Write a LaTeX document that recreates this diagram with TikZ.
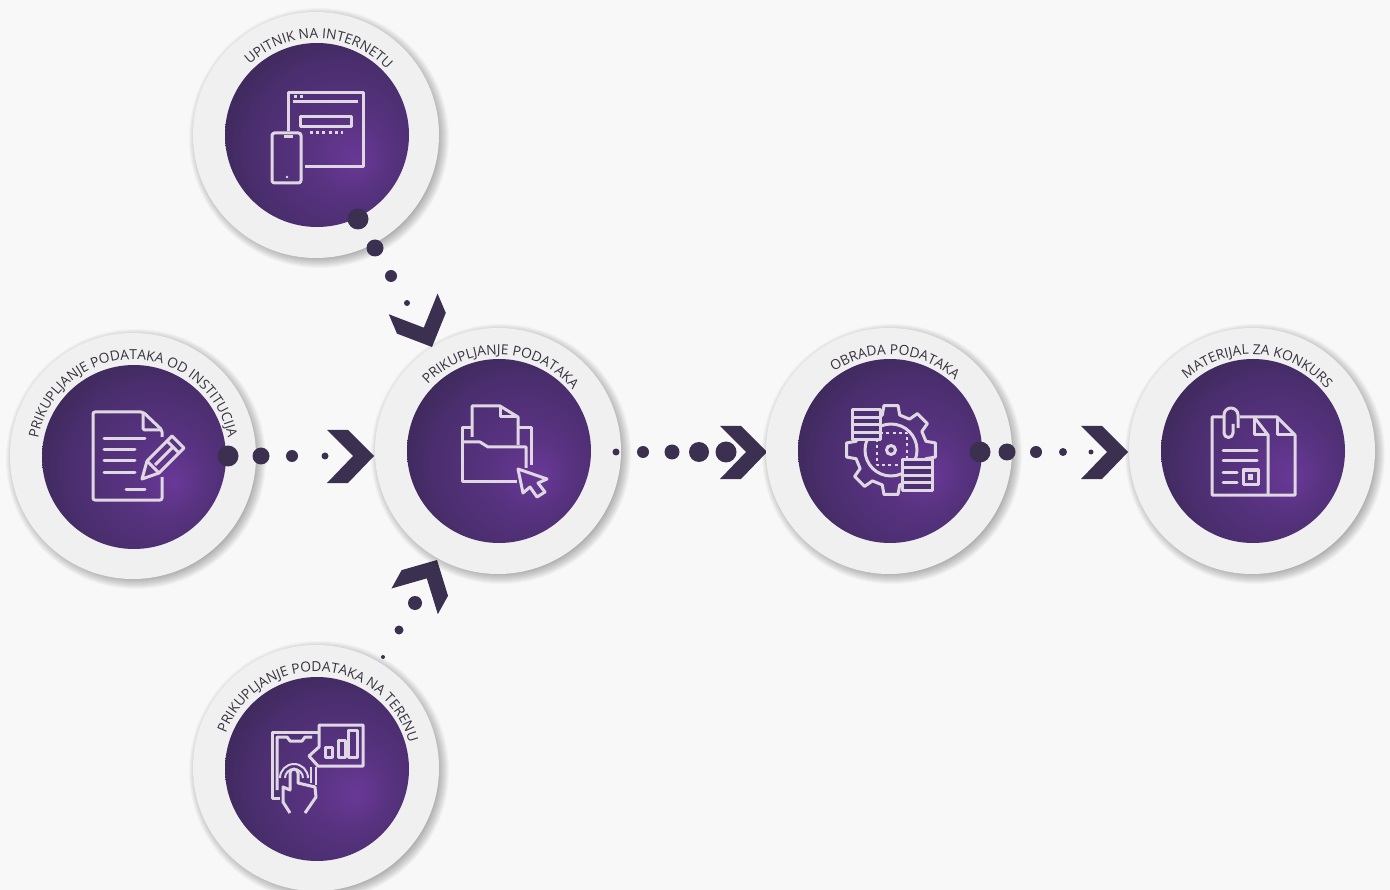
\documentclass[tikz,border=0pt]{standalone}
\usepackage{fontspec}
\setmainfont{Open Sans}
\usetikzlibrary{calc, decorations.text}

\definecolor{pagebg}{HTML}{F8F8F8}
\definecolor{rimfill}{HTML}{F1F0F1}
\definecolor{inkdark}{HTML}{3C3050}
\definecolor{labelink}{HTML}{38323F}
\definecolor{iconink}{HTML}{DFD8E3}
\definecolor{coinfill}{HTML}{4C2E72}
\pgfdeclareradialshading{discglow}{\pgfpoint{11bp}{-7bp}}{rgb(0bp)=(0.41,0.22,0.59); rgb(10bp)=(0.35,0.20,0.51); rgb(24bp)=(0.29,0.18,0.43); rgb(36bp)=(0.21,0.15,0.30); rgb(50bp)=(0.21,0.15,0.30)}
\newcommand{\arcfont}{\fontsize{13.8}{15}\selectfont\color{labelink}}
\newcommand{\arclabel}[3]{\path[decorate, decoration={text along path, text align=center, text={|\arcfont|#3}}] ($(#1)+(#2+105:96.5pt)$) arc[start angle=#2+105, end angle=#2-105, radius=96.5pt];}

\tikzset{
  rimdisc/.style={circle, fill=rimfill, inner sep=0, minimum size=246pt},
  glowdisc/.style={circle, shading=discglow, inner sep=0, minimum size=184pt},
  dotmark/.style={circle, fill=inkdark, inner sep=0},
  iconline/.style={draw=iconink, line width=3pt, line join=round},
  icondots/.style={iconline, dash pattern=on 3pt off 3.2pt},
  chevron/.pic={\fill[inkdark] (-47,-26)--(-26,-26)--(0,0)--(-26,27)--(-47,27)--(-21,0)--cycle;}
}

\begin{document}
\begin{tikzpicture}[x=1pt, y=-1pt]
  \useasboundingbox[fill=pagebg] (0,0) rectangle (1390,890);

  % chevrons go under the discs
  \pic[rotate=-67] (chevTop) at (432,347) {chevron};
  \pic[rotate=61] (chevBottom) at (437,560) {chevron};
  \pic (chevLeft) at (374,456) {chevron};
  \pic (chevMid) at (767,452) {chevron};
  \pic (chevRight) at (1128,452) {chevron};

  % soft shadow under each rim
  \foreach \x/\y in {316/135, 133/456, 498/451, 889/451, 1252/451, 316/768}
    \foreach \k in {0,...,11}
      \fill[black, opacity=0.028] (\x+3,\y+3) circle[radius={(130-\k)*1pt}];

  \node[rimdisc] (rimTop) at (316,135) {};
  \node[rimdisc] (rimLeft) at (133,456) {};
  \node[rimdisc] (rimMid) at (498,451) {};
  \node[rimdisc] (rimProc) at (889,451) {};
  \node[rimdisc] (rimMat) at (1252,451) {};
  \node[rimdisc] (rimBottom) at (316,768) {};

  \node[glowdisc] (discTop) at (317,135) {};
  \node[glowdisc] (discLeft) at (134,457) {};
  \node[glowdisc] (discMid) at (499,451) {};
  \node[glowdisc] (discProc) at (890,451) {};
  \node[glowdisc] (discMat) at (1253,451) {};
  \node[glowdisc] (discBottom) at (317,769) {};

  \arclabel{rimTop}{88}{UPITNIK NA INTERNETU}
  \arclabel{rimLeft}{90}{PRIKUPLJANJE PODATAKA OD INSTITUCIJA}
  \arclabel{rimMid}{88}{PRIKUPLJANJE PODATAKA}
  \arclabel{rimProc}{86}{OBRADA PODATAKA}
  \arclabel{rimMat}{86}{MATERIJAL ZA KONKURS}
  \arclabel{rimBottom}{87}{PRIKUPLJANJE PODATAKA NA TERENU}

  % dots
  \foreach \x/\y/\d [count=\i] in {358/219/21, 375/248/17, 391/276/12, 407/303/6}
    \node[dotmark, minimum size=\d pt] (dotTop\i) at (\x,\y) {};
  \foreach \x/\y/\d [count=\i] in {228/456/21, 261/456/17, 292/456/12, 325/456/7}
    \node[dotmark, minimum size=\d pt] (dotLeft\i) at (\x,\y) {};
  \foreach \x/\y/\d [count=\i] in {616/452/7, 643/452/12, 672/452/15, 699/452/20, 726/452/21}
    \node[dotmark, minimum size=\d pt] (dotMid\i) at (\x,\y) {};
  \foreach \x/\y/\d [count=\i] in {980/452/21, 1007/452/17, 1036/452/12, 1063/452/8, 1091/452/5}
    \node[dotmark, minimum size=\d pt] (dotRight\i) at (\x,\y) {};
  \foreach \x/\y/\d [count=\i] in {415/603/14, 399/630/9, 383/657/4}
    \node[dotmark, minimum size=\d pt] (dotBottom\i) at (\x,\y) {};

  % browser and phone
  \draw[iconline] (288,131)--(288,93)--(363,93)--(363,167)--(305,167);
  \draw[iconline] (293,102)--(358,102);
  \draw[icondots] (294,97)--(304,97);
  \draw[iconline] (300,117) rectangle (351,127);
  \draw[icondots] (310,133)--(343,133);
  \draw[iconline, rounded corners=2.5pt] (272,133) rectangle (301,183);
  \draw[iconline] (284,137)--(293,137);
  \fill[iconink] (287,177) circle[radius=1.4pt];

  % page and pencil
  \draw[iconline, rounded corners=2pt] (162,437)--(162,430)--(143,412)--(93,412)--(93,500)--(162,500)--(162,477);
  \draw[iconline, rounded corners=1.5pt] (143,412)--(143,430)--(162,430);
  \draw[iconline, line cap=round] (104,439)--(145,439) (104,450)--(135,450) (104,461)--(135,461) (104,472)--(135,472) (126,489)--(145,489);
  \draw[iconline] (142,479)--(147,461)--(172,436)--(184,448)--(159,473)--cycle;
  \draw[iconline] (167,441)--(179,453) (147,461)--(159,473) (155,465)--(172,448);

  % folder and cursor
  \draw[iconline] (472,437)--(472,406)--(500,406)--(518,417)--(518,445);
  \draw[iconline] (500,406)--(500,417)--(518,417);
  \draw[iconline] (472,428)--(462,428)--(462,481)--(517,481);
  \draw[iconline] (518,428)--(531,428)--(531,465);
  \draw[iconline] (462,442)--(480,442)--(488,447)--(526,447)--(526,468);
  \draw[iconline] (518,469)--(547,479)--(538,483)--(545,492)--(537,497)--(530,487)--(523,493)--cycle;

  % gear and coins
  \coordinate (gearC) at (891,450);
  \draw[iconline] ($(gearC)+(-14:36pt)$) \foreach \a in {0,45,...,315} {
    -- ($(gearC)+(\a-14:36pt)$) -- ($(gearC)+(\a-9:45pt)$) -- ($(gearC)+(\a+9:45pt)$) -- ($(gearC)+(\a+14:36pt)$)} -- cycle;
  \draw[iconline] (gearC) circle[radius=26pt];
  \draw[iconline] (gearC) circle[radius=4.5pt];
  \draw[icondots, line width=2pt] (877,433) rectangle (907,465);
  \foreach \y in {410,417.5,425,432.5}
    \draw[iconline, fill=coinfill] (852,\y) rectangle (880,\y+7.5);
  \foreach \y in {460,467.5,475,482.5}
    \draw[iconline, fill=coinfill] (902,\y) rectangle (932,\y+7.5);

  % two sheets and clip
  \draw[iconline] (1224,417)--(1212,417)--(1212,495)--(1295,495)--(1295,435)--(1277,417)--(1240,417);
  \draw[iconline] (1254,417)--(1268,435)--(1268,495);
  \draw[iconline] (1254,417)--(1254,435)--(1268,435);
  \draw[iconline] (1277,417)--(1277,435)--(1295,435);
  \draw[iconline] (1238,428)--(1238,415) arc[start angle=0, end angle=180, radius=7pt]--(1224,433) arc[start angle=180, end angle=360, radius=4.5pt]--(1233,424);
  \draw[iconline, line cap=round] (1223,451)--(1257,451) (1223,461)--(1257,461) (1223,472)--(1237,472) (1223,482)--(1237,482);
  \draw[iconline] (1243,470) rectangle (1258,484);
  \fill[iconink] (1248,474) rectangle (1253,480);

  % phone, chart and hand
  \draw[iconline] (319,747)--(319,725)--(363,725)--(363,766)--(318,766)--(309,756)--cycle;
  \draw[iconline] (325,747) rectangle (332,757) (338,740) rectangle (345,757) (348,730) rectangle (357,757);
  \draw[iconline] (280,798)--(272,798)--(272,732)--(318,732);
  \draw[iconline] (277,790)--(277,737)--(287,737)--(290,741)--(302,741)--(305,737)--(312,737);
  \draw[iconline, line width=2pt] (311,767)--(311,783) (316,767)--(316,785);
  \draw[iconline, line width=2pt] (280,778) arc[start angle=180, end angle=0, radius=14pt];
  \draw[iconline, line width=2pt] (285,778) arc[start angle=180, end angle=0, radius=9pt];
  \draw[iconline] (290,813)--(283,802)--(283,787)--(290,790)--(290,773) arc[start angle=180, end angle=0, radius=4pt]--(298,783)--(315,787)--(316,797)--(305,813);
\end{tikzpicture}
\end{document}
